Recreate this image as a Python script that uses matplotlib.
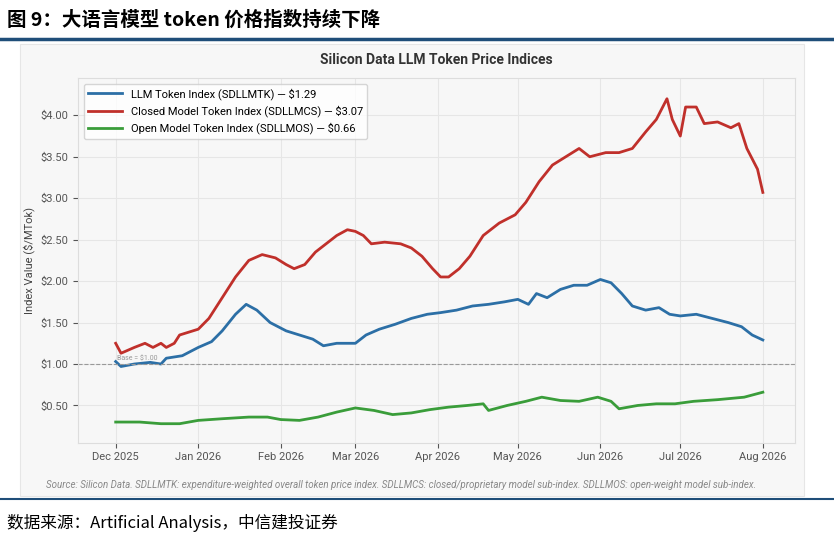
import matplotlib
matplotlib.use("Agg")
import matplotlib.pyplot as plt
import matplotlib.dates as mdates
import pandas as pd
from matplotlib.patches import Rectangle
from matplotlib.ticker import FuncFormatter

plt.rcParams['font.family'] = ['Roboto', 'Noto Sans CJK SC', 'DejaVu Sans']

# (day offset from 2025-12-01, value)
closed_days = [0, 2, 7, 11, 14, 17, 19, 22, 24, 31, 35, 40, 45, 50, 55, 60, 64, 67, 71, 75, 79, 83, 87, 90, 93, 96,
               101, 107, 111, 115, 119, 122, 125, 129, 133, 138, 144, 150, 154, 159, 164, 169, 174, 178, 184, 189,
               194, 199, 203, 207, 209, 212, 214, 218, 221, 226, 231, 234, 237, 241, 243]
closed_vals = [1.25, 1.13, 1.20, 1.25, 1.20, 1.25, 1.20, 1.25, 1.35, 1.42, 1.55, 1.80, 2.05, 2.25, 2.32, 2.28, 2.20,
               2.15, 2.20, 2.35, 2.45, 2.55, 2.62, 2.60, 2.55, 2.45, 2.47, 2.45, 2.40, 2.30, 2.15, 2.05, 2.05, 2.15,
               2.30, 2.55, 2.70, 2.80, 2.95, 3.20, 3.40, 3.50, 3.60, 3.50, 3.55, 3.55, 3.60, 3.80, 3.95, 4.20, 3.95,
               3.75, 4.10, 4.10, 3.90, 3.92, 3.85, 3.90, 3.60, 3.35, 3.07]

llm_days = [0, 2, 7, 13, 17, 19, 25, 31, 36, 40, 45, 49, 53, 58, 64, 69, 74, 78, 83, 90, 94, 99, 105, 111, 117, 122,
            128, 134, 140, 146, 151, 155, 158, 162, 167, 172, 177, 182, 186, 190, 194, 199, 204, 208, 212, 218,
            224, 230, 235, 239, 243]
llm_vals = [1.03, 0.97, 1.00, 1.02, 1.00, 1.07, 1.10, 1.20, 1.27, 1.40, 1.60, 1.72, 1.65, 1.50, 1.40, 1.35, 1.30,
            1.22, 1.25, 1.25, 1.35, 1.42, 1.48, 1.55, 1.60, 1.62, 1.65, 1.70, 1.72, 1.75, 1.78, 1.72, 1.85, 1.80,
            1.90, 1.95, 1.95, 2.02, 1.98, 1.85, 1.70, 1.65, 1.68, 1.60, 1.58, 1.60, 1.55, 1.50, 1.45, 1.35, 1.29]

open_days = [0, 9, 17, 24, 31, 40, 50, 57, 62, 69, 76, 83, 90, 97, 104, 111, 118, 125, 132, 138, 140, 147, 154, 160,
             167, 174, 181, 186, 189, 196, 203, 210, 217, 226, 236, 243]
open_vals = [0.30, 0.30, 0.28, 0.28, 0.32, 0.34, 0.36, 0.36, 0.33, 0.32, 0.36, 0.42, 0.47, 0.44, 0.39, 0.41, 0.45,
             0.48, 0.50, 0.52, 0.44, 0.50, 0.55, 0.60, 0.56, 0.55, 0.60, 0.55, 0.46, 0.50, 0.52, 0.52, 0.55, 0.57,
             0.60, 0.66]

start = pd.Timestamp("2025-12-01")


def to_dates(days):
    return [start + pd.Timedelta(days=d) for d in days]


fig = plt.figure(figsize=(8.34, 5.38), dpi=100)
fig.patch.set_facecolor("white")

fig.text(0.008, 0.962, "图 9：大语言模型 token 价格指数持续下降", fontsize=14, fontweight="bold",
         family=["Noto Sans CJK SC", "DejaVu Sans"], va="center")
fig.add_artist(plt.Line2D([0, 1], [0.927, 0.927], color="#1f4e79", lw=2.5))
fig.add_artist(plt.Line2D([0, 1], [0.072, 0.072], color="#1f4e79", lw=1.5))
fig.text(0.008, 0.028, "数据来源：Artificial Analysis，中信建投证券", fontsize=12, style="italic",
         family=["Noto Sans CJK SC", "DejaVu Sans"], va="center")

bg = Rectangle((0.024, 0.078), 0.94, 0.84, transform=fig.transFigure, facecolor="#f7f7f7",
               edgecolor="#e6e6e6", lw=0.8, zorder=-10)
fig.patches.append(bg)

ax = fig.add_axes([0.094, 0.177, 0.859, 0.678])
ax.set_facecolor("#f7f7f7")
ax.plot(to_dates(llm_days), llm_vals, color="#2c6fa6", lw=2, label="LLM Token Index (SDLLMTK) — $1.29")
ax.plot(to_dates(closed_days), closed_vals, color="#c0302b", lw=2,
        label="Closed Model Token Index (SDLLMCS) — $3.07")
ax.plot(to_dates(open_days), open_vals, color="#3a9d3a", lw=2, label="Open Model Token Index (SDLLMOS) — $0.66")
ax.axhline(1.0, color="#999999", lw=0.8, ls="--")
ax.text(start + pd.Timedelta(days=0.5), 1.02, "Base = $1.00", fontsize=5, color="#999999", va="bottom")

ax.set_ylim(0.05, 4.45)
ax.set_xlim(start - pd.Timedelta(days=14), start + pd.Timedelta(days=255))
ax.set_yticks([0.5, 1.0, 1.5, 2.0, 2.5, 3.0, 3.5, 4.0])
ax.yaxis.set_major_formatter(FuncFormatter(lambda v, p: f"${v:.2f}"))
ax.xaxis.set_major_locator(mdates.MonthLocator())
ax.xaxis.set_major_formatter(mdates.DateFormatter("%b %Y"))
ax.tick_params(labelsize=8, colors="#555555")
ax.grid(True, color="#e6e6e6", lw=0.8)
for s in ax.spines.values():
    s.set_color("#dddddd")
ax.set_ylabel("Index Value ($/MTok)", fontsize=8, color="#444444")
ax.set_title("Silicon Data LLM Token Price Indices", fontsize=10, fontweight="bold", color="#333333", pad=10)
ax.legend(loc="upper left", fontsize=8, frameon=True, facecolor="white", edgecolor="#cccccc", handlelength=3)

fig.text(0.055, 0.098, "Source: Silicon Data. SDLLMTK: expenditure-weighted overall token price index. "
         "SDLLMCS: closed/proprietary model sub-index. SDLLMOS: open-weight model sub-index.",
         fontsize=7, style="italic", color="#888888", va="center")

fig.savefig("out.png", dpi=100)
